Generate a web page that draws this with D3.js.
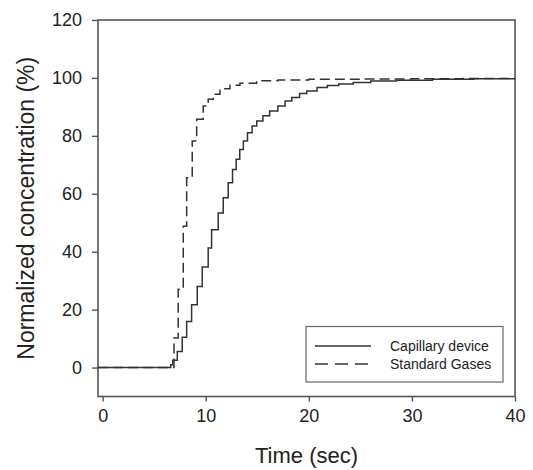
<!DOCTYPE html>
<html>
<head>
<meta charset="utf-8">
<script src="https://cdn.jsdelivr.net/npm/d3@7/dist/d3.min.js"></script>
<style>
  html, body { margin: 0; padding: 0; background: #fff; }
  svg { display: block; }
  text { font-family: "Liberation Sans", Arial, sans-serif; fill: #222; }
</style>
</head>
<body>
<svg id="chart" width="533" height="470"></svg>
<script>
// ---- data ----
const seriesNames = ["Capillary device", "Standard Gases"];

const capillaryTime  = [-0.45, 6.35, 6.6, 6.8, 7.24, 7.72, 8.15, 8.63, 9.18, 9.66, 10.24, 10.57, 11.21, 11.70, 12.18, 12.6, 12.95, 13.3, 13.65, 14.05, 14.5, 14.95, 15.55, 16.2, 17.0, 17.7, 18.35, 19.1, 19.8, 20.8, 21.8, 22.9, 24.3, 26.0, 28.5, 32.0, 36.0, 40.0];
const capillaryValue = [0, 0, 1, 2.5, 5.5, 10.5, 15.9, 21.7, 28.0, 34.7, 41.3, 47.6, 53.4, 58.6, 63.8, 68.4, 71.9, 75.3, 78.2, 81.1, 83.4, 85.1, 86.9, 88.6, 90.3, 92.0, 93.2, 94.6, 95.5, 96.7, 97.4, 97.9, 98.4, 98.9, 99.2, 99.5, 99.7, 99.8];

const standardTime  = [-0.45, 6.92, 7.33, 7.82, 8.15, 8.69, 9.12, 9.76, 10.24, 10.73, 11.38, 12.35, 13.32, 14.94, 17.0, 20.0, 25.0, 30.0, 35.0, 40.0];
const standardValue = [0, 10.2, 27.0, 48.8, 65.5, 78.2, 85.7, 90.3, 92.6, 94.4, 96.3, 97.5, 98.2, 99.0, 99.3, 99.5, 99.6, 99.7, 99.8, 99.8];

const xTicks = [0, 10, 20, 30, 40];
const yTicks = [0, 20, 40, 60, 80, 100, 120];
const xTitle = "Time (sec)";
const yTitle = "Normalized concentration (%)";

(function () {
// ---- layout ----
const svg = d3.select("#chart");
const pl = 98, pr = 515, pt = 20, pb = 396.5;

const x = d3.scaleLinear().domain([-0.45, 40]).range([pl, pr]);
const y = d3.scaleLinear().domain([-10, 120]).range([pb, pt]);

const axisColor = "#555";
const lineColor = "#333";

// frame
svg.append("rect")
  .attr("x", pl).attr("y", pt)
  .attr("width", pr - pl).attr("height", pb - pt)
  .attr("fill", "none").attr("stroke", axisColor).attr("stroke-width", 1.6);

// x axis
const gx = svg.append("g").attr("transform", `translate(0,${pb})`)
  .call(d3.axisBottom(x).tickValues(xTicks).tickSize(5).tickPadding(8).tickFormat(d3.format("d")));
gx.select(".domain").remove();
gx.selectAll("line").attr("stroke", axisColor).attr("stroke-width", 1.4);
gx.selectAll("text").style("font-size", "18px").attr("fill", "#222");

// y axis
const gy = svg.append("g").attr("transform", `translate(${pl},0)`)
  .call(d3.axisLeft(y).tickValues(yTicks).tickSize(6).tickPadding(10).tickFormat(d3.format("d")));
gy.select(".domain").remove();
gy.selectAll("line").attr("stroke", axisColor).attr("stroke-width", 1.4);
gy.selectAll("text").style("font-size", "18px").attr("fill", "#222");

// titles
svg.append("text")
  .attr("x", (pl + pr) / 2).attr("y", 463)
  .attr("text-anchor", "middle").style("font-size", "22px")
  .text(xTitle);
svg.append("text")
  .attr("transform", `translate(33.5,${(pt + pb) / 2}) rotate(-90)`)
  .attr("text-anchor", "middle").style("font-size", "23px")
  .text(yTitle);

// curves
const line = d3.line().x(d => x(d[0])).y(d => y(d[1])).curve(d3.curveStepAfter);
const capData = d3.zip(capillaryTime, capillaryValue);
const stdData = d3.zip(standardTime, standardValue);

svg.append("path").datum(stdData)
  .attr("d", line).attr("fill", "none")
  .attr("stroke", lineColor).attr("stroke-width", 1.5)
  .attr("stroke-dasharray", "10,5");
svg.append("path").datum(capData)
  .attr("d", line).attr("fill", "none")
  .attr("stroke", lineColor).attr("stroke-width", 1.5);

// legend
const lg = svg.append("g");
lg.append("rect")
  .attr("x", 306).attr("y", 326.5).attr("width", 197).attr("height", 55.5)
  .attr("fill", "#fff").attr("stroke", "#666").attr("stroke-width", 1.2);
const legendRows = [
  { name: seriesNames[0], dash: null, y: 346 },
  { name: seriesNames[1], dash: "13,7", y: 364 }
];
legendRows.forEach(r => {
  const l = lg.append("line")
    .attr("x1", 315).attr("x2", 371).attr("y1", r.y).attr("y2", r.y)
    .attr("stroke", lineColor).attr("stroke-width", 1.4);
  if (r.dash) l.attr("stroke-dasharray", r.dash);
  lg.append("text").attr("x", 390).attr("y", r.y + 5)
    .style("font-size", "14px").text(r.name);
});
})();
</script>
</body>
</html>
